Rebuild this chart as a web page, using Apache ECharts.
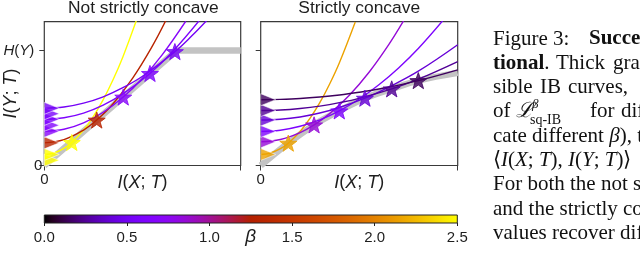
<!DOCTYPE html>
<html><head><meta charset="utf-8">
<script src="https://cdn.jsdelivr.net/npm/echarts@6/dist/echarts.min.js"></script>
<style>html,body{margin:0;padding:0;background:#fff}#c{width:640px;height:254px}</style>
</head><body><div id="c"></div>
<script>
// ---------------- data ----------------
// Left panel: "Not strictly concave"
const leftGrey = [[0,0],[0.674,1.0],[1.0,1.0]];
const leftBeta = [2.5, 1.3, 0.7, 0.6, 0.52];
const L_curve0 = [[0,0.096],[0.05,0.109],[0.1,0.149],[0.14,0.2],[0.2,0.308],[0.25,0.427],[0.3,0.573],[0.35,0.745],[0.4,0.944],[0.47,1.267]];
const L_curve1 = [[0,0.197],[0.1,0.225],[0.2,0.308],[0.267,0.395],[0.35,0.537],[0.45,0.76],[0.55,1.038],[0.62,1.265]];
const L_curve2 = [[0,0.297],[0.1,0.315],[0.2,0.371],[0.3,0.463],[0.402,0.595],[0.5,0.759],[0.6,0.962],[0.72,1.254]];
const L_curve3 = [[0,0.401],[0.1,0.415],[0.2,0.456],[0.3,0.525],[0.4,0.622],[0.538,0.8],[0.65,0.984],[0.79,1.262]];
const L_curve4 = [[0,0.497],[0.1,0.508],[0.2,0.542],[0.3,0.597],[0.4,0.676],[0.5,0.776],[0.665,0.99],[0.75,1.125],[0.83,1.266]];
const leftStars = [[0.14,0.2],[0.267,0.395],[0.402,0.595],[0.538,0.8],[0.665,0.99]];
const leftStarts = [[0,0.045],[0,0.096],[0,0.197],[0,0.297],[0,0.35],[0,0.401],[0,0.45],[0,0.497]];
const leftStartBeta = [2.5, 2.5, 1.3, 0.7, 0.66, 0.6, 0.56, 0.52];

// Right panel: "Strictly concave"
const rightGrey = [[0,0],[0.14,0.194],[0.271,0.353],[0.399,0.475],[0.529,0.585],[0.665,0.666],[0.8,0.738],[1,0.805]];
const rightBeta = [2.15, 0.85, 0.6, 0.4, 0.25, 0.15];
const R_curve0 = [[0,0.096],[0.05,0.109],[0.1,0.146],[0.14,0.194],[0.2,0.296],[0.25,0.409],[0.3,0.546],[0.35,0.709],[0.4,0.896],[0.48,1.248]];
const R_curve1 = [[0,0.206],[0.1,0.226],[0.2,0.286],[0.271,0.353],[0.35,0.451],[0.45,0.611],[0.55,0.811],[0.65,1.051],[0.73,1.272]];
const R_curve2 = [[0,0.296],[0.1,0.307],[0.2,0.341],[0.3,0.397],[0.399,0.475],[0.5,0.578],[0.6,0.702],[0.7,0.848],[0.8,1.017],[0.93,1.271]];
const R_curve3 = [[0,0.395],[0.1,0.402],[0.2,0.422],[0.3,0.456],[0.4,0.504],[0.529,0.585],[0.65,0.682],[0.8,0.82],[1,1.05]];
const R_curve4 = [[0,0.478],[0.1,0.482],[0.2,0.495],[0.3,0.516],[0.4,0.546],[0.5,0.584],[0.665,0.666],[0.8,0.75],[1,0.903]];
const R_curve5 = [[0,0.572],[0.1,0.575],[0.2,0.582],[0.3,0.595],[0.4,0.613],[0.5,0.637],[0.6,0.665],[0.8,0.738],[1,0.831]];
const rightStars = [[0.14,0.194],[0.271,0.353],[0.399,0.475],[0.529,0.585],[0.665,0.666],[0.8,0.738]];
const rightStarts = [[0,0.096],[0,0.206],[0,0.296],[0,0.395],[0,0.478],[0,0.572]];

// Colorbar
const betaMin = 0, betaMax = 2.5, betaStep = 0.5;
// Tick values on the main axes
const yTickValues = [0, 1];   // 0 and H(Y)
const yMax = 1.25;

// ---------------- styling ----------------
const SANS = '"Liberation Sans", Arial, Helvetica, sans-serif';
const SERIF = '"Liberation Serif", "Times New Roman", serif';
const INK = '#1e1e1e';
const FRAME = '#3a3a3a';
const STAR = 'path://M0,-10L2.351,-3.236L9.511,-3.09L3.804,1.236L5.878,8.09L0,4L-5.878,8.09L-3.804,1.236L-9.511,-3.09L-2.351,-3.236Z';

function gnuplot(t){
  t = Math.max(0, Math.min(1, t));
  const r = Math.sqrt(t), g = t*t*t, b = Math.max(0, Math.sin(2*Math.PI*t));
  return 'rgb(' + Math.round(r*255) + ',' + Math.round(g*255) + ',' + Math.round(b*255) + ')';
}
const col = beta => gnuplot((beta - betaMin)/(betaMax - betaMin));

const stops = [];
for (let i = 0; i <= 50; i++) stops.push({offset: i/50, color: gnuplot(i/50)});

const leftCurves = [L_curve0, L_curve1, L_curve2, L_curve3, L_curve4];
const rightCurves = [R_curve0, R_curve1, R_curve2, R_curve3, R_curve4, R_curve5];

const series = [];
function greySeries(data, gi){
  series.push({type:'line', xAxisIndex:gi, yAxisIndex:gi, data, symbol:'none', smooth: gi===1 ? 0.4 : false,
    lineStyle:{color:'#c3c3c3', width:6.5, cap:'butt'}, z:1, silent:true});
}
function curveSeries(curves, betas, gi){
  curves.forEach((d,i)=>{
    series.push({type:'line', xAxisIndex:gi, yAxisIndex:gi, data:d, symbol:'none', smooth:0.4,
      lineStyle:{color:col(betas[i]), width:1.4}, z:2, silent:true});
  });
}
function triSeries(pts, betas, gi){
  series.push({type:'scatter', xAxisIndex:gi, yAxisIndex:gi, z:3, silent:true,
    symbol:'triangle', symbolRotate:-90, symbolSize:[12,15], symbolOffset:[7.5,0],
    data: pts.map((p,i)=>({value:p, itemStyle:{color:col(betas[i]), borderColor:'rgba(255,255,255,0.85)', borderWidth:0.8}}))});
}
function starSeries(pts, betas, gi){
  series.push({type:'scatter', xAxisIndex:gi, yAxisIndex:gi, z:4, silent:true,
    symbol:STAR, symbolKeepAspect:true, symbolSize:17,
    data: pts.map((p,i)=>({value:p, itemStyle:{color:col(betas[i]), opacity:0.8, borderColor:col(betas[i]), borderWidth:1}}))});
}
greySeries(leftGrey, 0);
curveSeries(leftCurves, leftBeta, 0);
triSeries(leftStarts, leftStartBeta, 0);
starSeries(leftStars, leftBeta, 0);
greySeries(rightGrey, 1);
curveSeries(rightCurves, rightBeta, 1);
triSeries(rightStarts, rightBeta, 1);
starSeries(rightStars, rightBeta, 1);
series.push({type:'scatter', xAxisIndex:2, yAxisIndex:2, data:[], silent:true});

const italicRich = size => ({i:{fontStyle:'italic', fontSize:size, fontFamily:SANS, color:INK}, sp:{width:8, fontSize:size}});

function xAx(gi){
  return {type:'value', gridIndex:gi, min:0, max:1, interval:1,
    axisLine:{show:false}, splitLine:{show:false},
    axisTick:{show:true, length:5, lineStyle:{color:FRAME, width:1}},
    axisLabel:{formatter:v=>v===0?'0':'', fontSize:15, color:INK, margin:7, fontFamily:SANS},
    name:'{i|I}({i|X}; {i|T})', nameLocation:'middle', nameGap:8, nameMoveOverlap:false,
    nameTextStyle:{fontSize:18, color:INK, fontFamily:SANS, rich:italicRich(18)}};
}
function yAx(gi, labels){
  const a = {type:'value', gridIndex:gi, min:0, max:yMax, interval:1,
    axisLine:{show:false}, splitLine:{show:false},
    axisTick:{show:true, length:5, customValues:yTickValues, lineStyle:{color:FRAME, width:1}},
    axisLabel:{show:labels, customValues:yTickValues, margin:2, fontSize:15, color:INK, fontFamily:SANS,
      formatter:v=>v===0?'0':'{i|H}({i|Y}){sp|}', rich:italicRich(15)}};
  if (labels){
    a.name = '{i|I}({i|Y}; {i|T})'; a.nameLocation='middle'; a.nameRotate=90; a.nameGap=24; a.nameMoveOverlap=false;
    a.nameTextStyle = {fontSize:18, color:INK, fontFamily:SANS, rich:italicRich(18)};
  }
  return a;
}

const graphics = [];
const CAP = 21;
function txt(x, y, text, extra){
  graphics.push({type:'text', x, y, silent:true,
    style:Object.assign({text, fontSize:CAP, fontFamily:SERIF, fill:'#111', align:'left', verticalAlign:'middle'}, extra||{})});
}
// panel titles
txt(143.3, 8.5, 'Not strictly concave', {fontFamily:SANS, fontSize:17.4, align:'center', fill:INK});
txt(359.2, 8.5, 'Strictly concave', {fontFamily:SANS, fontSize:17.4, align:'center', fill:INK});
// caption (cropped by the right edge in the reference)
const richSerif = {b:{fontWeight:'bold', fontSize:CAP, fontFamily:SERIF, fill:'#111'}, i:{fontStyle:'italic', fontSize:CAP, fontFamily:SERIF, fill:'#111'}};
const ly = n => 39 + 24.3*n;
txt(493, ly(0), 'Figure 3:');
txt(589, ly(0), 'Successful', {fontWeight:'bold'});
txt(493, ly(1), '{b|tional}.', {rich:richSerif});
txt(556, ly(1), 'Thick');
txt(613, ly(1), 'gray');
txt(493, ly(2), 'sible');
txt(540, ly(2), 'IB');
txt(568, ly(2), 'curves,');
txt(493, ly(3), 'of');
txt(516, ly(3), 'ℒ', {fontStyle:'italic'});
txt(532, ly(3)-7, 'β', {fontSize:13, fontStyle:'italic'});
txt(530, ly(3)+8, 'sq-IB', {fontSize:14});
txt(590, ly(3), 'for');
txt(621, ly(3), 'different');
txt(493, ly(4), 'cate different {i|β}), the', {rich:richSerif});
txt(493, ly(5), '⟨{i|I}({i|X}; {i|T}), {i|I}({i|Y}; {i|T})⟩', {rich:richSerif});
txt(493, ly(6), 'For both the not strictly');
txt(493, ly(7), 'and the strictly concave');
txt(493, ly(8), 'values recover different');

const option = {
  animation:false,
  backgroundColor:'#fff',
  grid:[
    {left:44.3, top:21.7, width:196.4, height:143.8, show:true, borderColor:FRAME, borderWidth:1.2, backgroundColor:'transparent'},
    {left:260.7, top:21.7, width:197, height:143.8, show:true, borderColor:FRAME, borderWidth:1.2, backgroundColor:'transparent'},
    {left:44.3, top:215, width:413, height:8, show:true, borderColor:'#222', borderWidth:1,
      backgroundColor:{type:'linear', x:0, y:0, x2:1, y2:0, colorStops:stops}}
  ],
  xAxis:[ xAx(0), xAx(1),
    {type:'value', gridIndex:2, min:betaMin, max:betaMax, interval:betaStep,
     axisLine:{show:false}, splitLine:{show:false},
     axisTick:{show:true, length:3, lineStyle:{color:'#222'}},
     axisLabel:{formatter:v=>v.toFixed(1), fontSize:15, color:INK, margin:7, fontFamily:SANS},
     name:'β', nameLocation:'middle', nameGap:4, nameMoveOverlap:false,
     nameTextStyle:{fontSize:19, fontStyle:'italic', color:INK, fontFamily:SANS}}
  ],
  yAxis:[ yAx(0,true), yAx(1,false),
    {type:'value', gridIndex:2, min:0, max:1, show:false}
  ],
  series,
  graphic:graphics
};
const chart = echarts.init(document.getElementById('c'), null, {renderer:'canvas'});
chart.setOption(option);
</script>
</body></html>
